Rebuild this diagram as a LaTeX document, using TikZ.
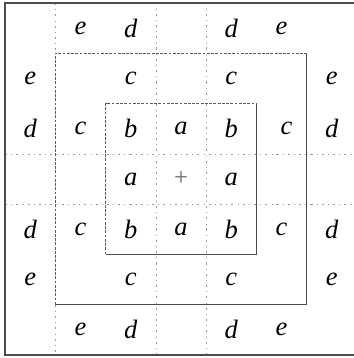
\documentclass[tikz,border=0pt]{standalone}
\usepackage{fontspec}
\setmainfont{Liberation Serif}
\usepackage{tikz}
\usetikzlibrary{positioning}

\begin{document}
\begin{tikzpicture}[x=1cm, y=1cm, every node/.style={font=\fontsize{15}{17}\selectfont\itshape},
    frame/.style={draw=black!70, line width=0.6pt},
    dashedge/.style={draw=black!65, line width=0.5pt, dash pattern=on 1.6pt off 0.8pt},
    gridline/.style={draw=black!40, line width=0.4pt, dash pattern=on 1.2pt off 2.4pt on 0.4pt off 2.4pt}]
  \useasboundingbox (-3.6,-3.56) rectangle (3.44,3.56);
  % grid through the middle row and column
  \draw[gridline] (-0.5,-3.5) -- (-0.5,3.5);
  \draw[gridline] (0.5,-3.5) -- (0.5,3.5);
  \draw[gridline] (-3.5,-0.5) -- (3.5,-0.5);
  \draw[gridline] (-3.5,0.5) -- (3.5,0.5);
  \draw[gridline] (-2.5,3.5) -- (-2.5,2.5);
  \draw[gridline] (-2.5,-2.5) -- (-2.5,-3.5);
  % outer frame
  \draw[frame] (-3.5,-3.5) rectangle (3.5,3.5);
  % middle box
  \draw[dashedge] (-2.5,-2.5) -- (-2.5,2.5) -- (2.5,2.5);
  \draw[frame] (2.5,2.5) -- (2.5,-2.5) -- (-2.5,-2.5);
  % inner box
  \draw[dashedge] (-1.5,-1.5) -- (-1.5,1.5) -- (1.5,1.5);
  \draw[frame] (1.5,1.5) -- (1.5,-1.5) -- (-1.5,-1.5);
  % letters
  \foreach \x/\y/\t [count=\i] in {
      -2/3/e, -1/3/d, 1/3/d, 2/3/e,
      -3/2/e, -1/2/c, 1/2/c, 3/2/e,
      -3/1/d, -2/1/c, -1/1/b, 0/1/a, 1/1/b, 2.1/1/c, 3/1/d,
      -1/0/a, 1/0/a,
      -3/-1/d, -2/-1/c, -1/-1/b, 0/-1/a, 1/-1/b, 2/-1/c, 3/-1/d,
      -3/-2/e, -1/-2/c, 1/-2/c, 3/-2/e,
      -2/-3/e, -1/-3/d, 1/-3/d, 2/-3/e}
    \node (lbl\i) at (\x,\y) {\t};
  \node[text=black!60, font=\fontsize{14}{16}\selectfont\upshape] (centre) at (0,0) {+};
\end{tikzpicture}
\end{document}
